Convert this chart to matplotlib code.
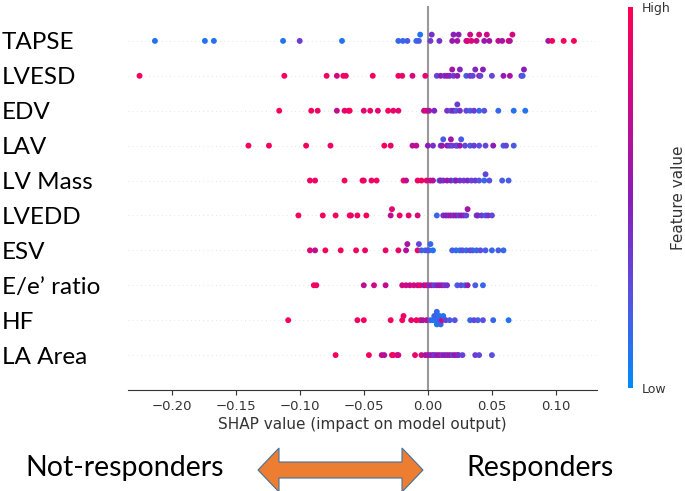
import numpy as np
import matplotlib
matplotlib.use("Agg")
import matplotlib.pyplot as plt
from matplotlib.colors import LinearSegmentedColormap
from matplotlib.patches import Polygon

features = ["TAPSE", "LVESD", "EDV", "LAV", "LV Mass", "LVEDD", "ESV",
            "E/e\u2019 ratio", "HF", "LA Area"]

# SHAP values and (normalised) feature values
tapse_shap = [-0.213, -0.174, -0.167, -0.113, -0.100, -0.067, -0.023, -0.0195, -0.016, -0.009,
              -0.007, -0.006, 0.002, 0.003, 0.009, 0.019, 0.020, 0.023, 0.024, 0.030, 0.031,
              0.033, 0.034, 0.038, 0.040, 0.044, 0.046, 0.048, 0.055, 0.058, 0.063, 0.064,
              0.066, 0.094, 0.097, 0.106, 0.114]
tapse_val = [0.1, 0.1, 0.1, 0.1, 0.35, 0.1, 0.15, 0.15, 0.2, 0.15, 0.2, 0.1, 0.35, 0.4, 0.4,
             0.55, 0.5, 0.6, 0.5, 0.7, 0.8, 0.75, 0.85, 0.7, 0.8, 0.55, 0.75, 0.6, 0.7, 0.6,
             0.9, 0.65, 0.8, 0.6, 0.95, 0.95, 0.95]

lvesd_shap = [-0.225, -0.112, -0.079, -0.071, -0.066, -0.064, -0.043, -0.023, -0.020, -0.012,
              -0.002, 0.007, 0.010, 0.013, 0.015, 0.017, 0.019, 0.020, 0.023, 0.025, 0.030,
              0.033, 0.035, 0.037, 0.040, 0.041, 0.043, 0.050, 0.059, 0.064, 0.073, 0.074, 0.075]
lvesd_val = [0.95, 0.95, 0.95, 0.75, 0.95, 0.9, 0.95, 0.95, 0.9, 0.8, 0.85, 0.3, 0.5, 0.4,
             0.55, 0.45, 0.6, 0.35, 0.5, 0.45, 0.2, 0.4, 0.3, 0.45, 0.6, 0.3, 0.5, 0.3, 0.55,
             0.6, 0.35, 0.2, 0.5]

edv_shap = [-0.116, -0.091, -0.086, -0.071, -0.065, -0.062, -0.061, -0.050, -0.045, -0.039,
            -0.031, -0.027, -0.023, -0.003, -0.001, 0.001, 0.005, 0.015, 0.018, 0.020, 0.022,
            0.023, 0.025, 0.030, 0.033, 0.036, 0.040, 0.044, 0.055, 0.067, 0.076]
edv_val = [0.95, 0.95, 0.9, 0.7, 0.9, 0.85, 0.95, 0.85, 0.9, 0.85, 0.95, 0.9, 0.85, 0.7, 0.85,
           0.6, 0.45, 0.4, 0.3, 0.5, 0.2, 0.35, 0.4, 0.3, 0.2, 0.35, 0.15, 0.25, 0.15, 0.1, 0.1]

lav_shap = [-0.140, -0.124, -0.095, -0.076, -0.034, -0.029, -0.012, -0.009, 0.000, 0.004,
            0.010, 0.011, 0.012, 0.015, 0.017, 0.018, 0.019, 0.022, 0.023, 0.025, 0.026,
            0.029, 0.033, 0.036, 0.040, 0.045, 0.051, 0.059, 0.061, 0.067]
lav_val = [0.95, 0.95, 0.95, 0.9, 0.95, 0.9, 0.65, 0.7, 0.5, 0.4, 0.3, 0.55, 0.2, 0.5, 0.4,
           0.6, 0.3, 0.45, 0.25, 0.55, 0.2, 0.3, 0.2, 0.35, 0.25, 0.3, 0.5, 0.2, 0.3, 0.2]

lvmass_shap = [-0.092, -0.088, -0.065, -0.051, -0.050, -0.044, -0.040, -0.019, -0.017, -0.008,
               -0.005, -0.001, 0.002, 0.004, 0.009, 0.010, 0.012, 0.015, 0.018, 0.021, 0.022,
               0.025, 0.028, 0.031, 0.034, 0.037, 0.040, 0.044, 0.045, 0.048, 0.058, 0.063]
lvmass_val = [0.95, 0.9, 0.95, 0.95, 0.9, 0.9, 0.95, 0.95, 0.7, 0.9, 0.95, 0.85, 0.75, 0.65,
              0.15, 0.5, 0.4, 0.55, 0.45, 0.15, 0.5, 0.4, 0.35, 0.45, 0.3, 0.35, 0.25, 0.15,
              0.3, 0.25, 0.2, 0.2]

lvedd_shap = [-0.101, -0.082, -0.072, -0.061, -0.060, -0.055, -0.048, -0.029, -0.028, -0.022,
              -0.015, -0.008, 0.007, 0.012, 0.014, 0.016, 0.018, 0.020, 0.022, 0.024, 0.026,
              0.028, 0.030, 0.031, 0.038, 0.039, 0.042, 0.045, 0.047, 0.050]
lvedd_val = [0.95, 0.95, 0.95, 0.95, 0.9, 0.9, 0.95, 0.7, 0.85, 0.9, 0.85, 0.8, 0.15, 0.4,
             0.5, 0.45, 0.6, 0.4, 0.55, 0.35, 0.5, 0.45, 0.3, 0.6, 0.3, 0.45, 0.35, 0.2, 0.4, 0.3]

esv_shap = [-0.092, -0.088, -0.080, -0.068, -0.056, -0.049, -0.033, -0.023, -0.017, -0.016,
            -0.008, -0.007, -0.005, -0.002, 0.000, 0.001, 0.002, 0.004, 0.019, 0.022, 0.025,
            0.027, 0.030, 0.033, 0.035, 0.038, 0.041, 0.045, 0.050, 0.055, 0.059]
esv_val = [0.85, 0.7, 0.95, 0.95, 0.95, 0.9, 0.9, 0.9, 0.65, 0.6, 0.9, 0.3, 0.2, 0.15, 0.3,
           0.2, 0.15, 0.1, 0.2, 0.15, 0.1, 0.25, 0.15, 0.3, 0.2, 0.15, 0.25, 0.2, 0.15, 0.2, 0.15]

ee_shap = [-0.089, -0.087, -0.050, -0.042, -0.033, -0.020, -0.017, -0.014, -0.011, -0.008,
           -0.006, -0.003, -0.001, 0.001, 0.003, 0.005, 0.007, 0.009, 0.011, 0.013, 0.015,
           0.023, 0.026, 0.029, 0.031, 0.037, 0.043]
ee_val = [0.95, 0.9, 0.7, 0.75, 0.7, 0.75, 0.8, 0.7, 0.85, 0.65, 0.95, 0.55, 0.85, 0.4, 0.6,
          0.3, 0.45, 0.5, 0.65, 0.35, 0.4, 0.2, 0.3, 0.15, 0.55, 0.2, 0.15]

hf_shap = [-0.109, -0.055, -0.050, -0.029, -0.020, -0.019, -0.013, -0.009, -0.006, -0.004,
           -0.001, 0.002, 0.004, 0.005, 0.006, 0.006, 0.007, 0.007, 0.008, 0.009, 0.009,
           0.010, 0.011, 0.012, 0.014, 0.017, 0.021, 0.033, 0.036, 0.039, 0.043, 0.051, 0.063]
hf_val = [0.95, 0.9, 0.95, 0.95, 0.95, 0.9, 0.85, 0.9, 0.95, 0.6, 0.7, 0.2, 0.1, 0.15, 0.1,
          0.2, 0.1, 0.15, 0.1, 0.2, 0.1, 0.15, 0.75, 0.1, 0.3, 0.2, 0.25, 0.15, 0.3, 0.2,
          0.25, 0.15, 0.1]

laarea_shap = [-0.072, -0.046, -0.036, -0.034, -0.028, -0.027, -0.024, -0.023, -0.010, -0.005,
               -0.002, 0.000, 0.002, 0.004, 0.005, 0.007, 0.009, 0.011, 0.013, 0.015, 0.017,
               0.019, 0.021, 0.023, 0.024, 0.027, 0.037, 0.040, 0.050]
laarea_val = [0.95, 0.95, 0.7, 0.65, 0.9, 0.95, 0.85, 0.75, 0.9, 0.8, 0.55, 0.7, 0.45, 0.6,
              0.35, 0.5, 0.65, 0.4, 0.55, 0.45, 0.6, 0.35, 0.5, 0.65, 0.4, 0.3, 0.35, 0.3, 0.25]

shap_rows = [tapse_shap, lvesd_shap, edv_shap, lav_shap, lvmass_shap, lvedd_shap,
             esv_shap, ee_shap, hf_shap, laarea_shap]
value_rows = [tapse_val, lvesd_val, edv_val, lav_val, lvmass_val, lvedd_val,
              esv_val, ee_val, hf_val, laarea_val]

red_blue = LinearSegmentedColormap.from_list(
    "red_blue", ["#008bfb", "#5a4fe0", "#8a1cb8", "#cc0a86", "#ff0052"])


def swarm_offsets(vals, nbins=100, row_height=0.4):
    # same stacking idea as shap's beeswarm plot
    vals = np.asarray(vals, dtype=float)
    quant = np.round(nbins * (vals - vals.min()) / (vals.max() - vals.min() + 1e-8))
    inds = np.lexsort((vals, quant))
    ys = np.zeros(len(vals))
    layer = 0
    last_bin = -1
    for ind in inds:
        if quant[ind] != last_bin:
            layer = 0
        ys[ind] = np.ceil(layer / 2) * ((layer % 2) * 2 - 1)
        layer += 1
        last_bin = quant[ind]
    ys *= 0.9 * (row_height / (np.max(ys) + 1))
    return ys


fig = plt.figure(figsize=(6.85, 4.91), dpi=100)
ax = fig.add_axes([128 / 685, 1 - 390 / 491, 469 / 685, 384 / 491])

n = len(features)
ax.axvline(0, color="#999999", lw=1.5, zorder=-1)
for i in range(n):
    pos = n - 1 - i
    ax.axhline(pos, color="#cccccc", lw=0.5, dashes=(1, 5), zorder=-1)
    xs = np.asarray(shap_rows[i])
    ys = pos + swarm_offsets(xs)
    ax.scatter(xs, ys, c=value_rows[i], cmap=red_blue, vmin=0, vmax=1,
               s=18, linewidth=0, zorder=3)

ax.set_xlim(-0.234, 0.132)
ax.set_ylim(-1, n)
ax.set_xticks([-0.20, -0.15, -0.10, -0.05, 0.00, 0.05, 0.10])
ax.set_xticklabels(["\u22120.20", "\u22120.15", "\u22120.10", "\u22120.05",
                    "0.00", "0.05", "0.10"])
ax.set_yticks(range(n))
ax.set_yticklabels(features[::-1], fontsize=17.5, family="Lato", ha="left")
ax.tick_params(axis="y", length=0, pad=91)
ax.tick_params(axis="x", colors="#333333", labelsize=9.5, length=3.5, width=0.8)
for s in ["top", "right", "left"]:
    ax.spines[s].set_visible(False)
ax.spines["bottom"].set_color("#333333")
ax.set_xlabel("SHAP value (impact on model output)", fontsize=11, color="#333333",
              labelpad=3)

# colour bar
cax = fig.add_axes([628 / 685, 1 - 388 / 491, 5 / 685, 381 / 491])
sm = plt.cm.ScalarMappable(cmap=red_blue, norm=plt.Normalize(0, 1))
cb = fig.colorbar(sm, cax=cax, ticks=[0, 1])
cb.set_ticklabels(["Low", "High"])
cb.outline.set_visible(False)
cax.tick_params(length=0, labelsize=9, colors="#333333", pad=6)
cb.set_label("Feature value", fontsize=11, color="#333333", labelpad=1)

# bottom annotation
fig.text(25 / 685, 1 - 468 / 491, "Not-responders", fontsize=20.5, family="Lato",
         ha="left", va="center")
fig.text(466 / 685, 1 - 468 / 491, "Responders", fontsize=20.5, family="Lato",
         ha="left", va="center")
x0, x1, yc = 258, 423, 470
hl, hw, bw = 21, 22, 8
arrow_px = [(x0, yc), (x0 + hl, yc - hw), (x0 + hl, yc - bw), (x1 - hl, yc - bw),
            (x1 - hl, yc - hw), (x1, yc), (x1 - hl, yc + hw), (x1 - hl, yc + bw),
            (x0 + hl, yc + bw), (x0 + hl, yc + hw)]
arrow_fig = [(x / 685, 1 - y / 491) for x, y in arrow_px]
fig.patches.append(Polygon(arrow_fig, closed=True, transform=fig.transFigure,
                           facecolor="#ed7d31", edgecolor="#41719c", lw=0.8))

fig.savefig("out.png", dpi=100)
